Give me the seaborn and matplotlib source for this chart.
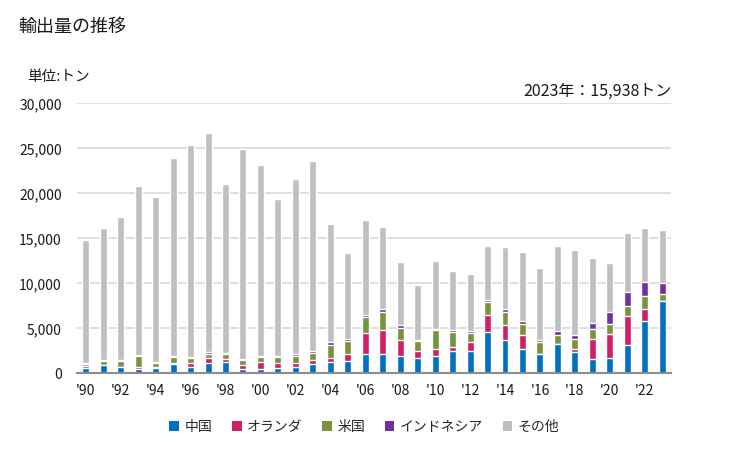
import numpy as np
import pandas as pd
import seaborn as sns
import matplotlib.pyplot as plt
from matplotlib.patches import Patch
from matplotlib.ticker import FuncFormatter

# ---------------------------------------------------------------------------
# Data (tons)
# ---------------------------------------------------------------------------

years = list(range(1990, 2024))
year_labels = [f"'{y % 100:02d}" for y in years]

china = [630, 920, 700, 480, 630, 1030, 700, 1140, 1260, 480,
         480, 600, 700, 1030, 1260, 1370, 2140, 2140, 1920, 1700,
         1920, 2480, 2480, 4590, 3700, 2700, 2140, 3260, 2370, 1590,
         1700, 3140, 5810, 8030]
netherlands = [140, 30, 20, 220, 70, 110, 440, 560, 330, 440,
               780, 540, 440, 450, 440, 770, 2340, 2670, 1780, 780,
               780, 440, 1000, 1890, 1670, 1560, 0, 0, 330, 2220,
               2670, 3230, 1330, 0]
usa = [230, 420, 650, 1220, 440, 670, 560, 440, 550, 560,
       550, 670, 780, 780, 1440, 1450, 1780, 2000, 1330, 1110,
       2110, 1670, 1000, 1440, 1440, 1220, 1340, 1000, 1110, 1110,
       1110, 1110, 1450, 780]
indonesia = [140, 110, 110, 110, 120, 110, 110, 230, 120, 110,
             110, 110, 220, 220, 340, 250, 220, 330, 340, 110,
             110, 220, 220, 220, 330, 330, 220, 440, 450, 670,
             1330, 1550, 1550, 1220]
other = [13660, 14660, 15890, 18780, 18330, 22000, 23560, 24330, 18770, 23330,
         21220, 17450, 19450, 21110, 13110, 9530, 10550, 9120, 7000, 6110,
         7560, 6560, 6330, 6000, 6890, 7670, 8000, 9440, 9440, 7220,
         5450, 6560, 6000, 5908]

series_names = ["中国", "オランダ", "米国", "インドネシア", "その他"]
series_colors = ["#0070C0", "#D01F64", "#77933C", "#7030A0", "#BFBFBF"]

# ---------------------------------------------------------------------------
# Build cumulative table for stacking
# ---------------------------------------------------------------------------

df = pd.DataFrame(
    {"year": year_labels, "中国": china, "オランダ": netherlands,
     "米国": usa, "インドネシア": indonesia, "その他": other}
)
cum = df[series_names].cumsum(axis=1)
cum["year"] = df["year"]

sns.set_style("white")
plt.rcParams["font.family"] = ["Noto Sans CJK JP", "DejaVu Sans"]

fig = plt.figure(figsize=(7.29, 4.5), dpi=100)
ax = fig.add_axes([0.1056, 0.1704, 0.8148, 0.60])

# draw from the top layer down so lower segments cover the upper ones
for name, color in reversed(list(zip(series_names, series_colors))):
    sns.barplot(data=cum, x="year", y=name, order=year_labels, color=color,
                width=0.4, errorbar=None, saturation=1, ax=ax, zorder=3)

ax.set_xlim(-0.5, len(years) - 0.5)
ax.set_ylim(0, 30000)
ax.set_yticks(np.arange(0, 30001, 5000))
ax.yaxis.set_major_formatter(FuncFormatter(lambda v, _: f"{int(v):,}"))
ax.set_xticks(range(0, len(years), 2))
ax.set_xticklabels(year_labels[::2])
ax.set_xlabel("")
ax.set_ylabel("")

ax.grid(axis="y", color="#D9D9D9", linewidth=1.2, zorder=0)
ax.set_axisbelow(True)
for side in ["top", "right", "left"]:
    ax.spines[side].set_visible(False)
ax.spines["bottom"].set_color("#8C8C8C")
ax.spines["bottom"].set_linewidth(1.5)
ax.spines["bottom"].set_zorder(5)
ax.tick_params(axis="both", length=0, labelsize=10, colors="#1A1A1A")
ax.tick_params(axis="y", pad=11)
ax.tick_params(axis="x", pad=8)

# ---------------------------------------------------------------------------
# Texts & legend
# ---------------------------------------------------------------------------

fig.text(0.025, 0.94, "輸出量の推移", fontsize=13, va="center", ha="left",
         color="#1A1A1A")
fig.text(0.037, 0.829, "単位:トン", fontsize=10.5, va="center", ha="left",
         color="#1A1A1A")
total_last = china[-1] + netherlands[-1] + usa[-1] + indonesia[-1] + other[-1]
fig.text(0.922, 0.796, f"{years[-1]}年：{total_last:,}トン", fontsize=11.5,
         va="center", ha="right", color="#1A1A1A")

handles = [Patch(facecolor=c, edgecolor="none") for c in series_colors]
fig.legend(handles, series_names, loc="center", bbox_to_anchor=(0.5, 0.051),
           ncol=5, frameon=False, fontsize=10, handlelength=0.7,
           handleheight=0.7, handletextpad=0.4, columnspacing=1.4)

fig.savefig("out.png", dpi=100, facecolor="white")
